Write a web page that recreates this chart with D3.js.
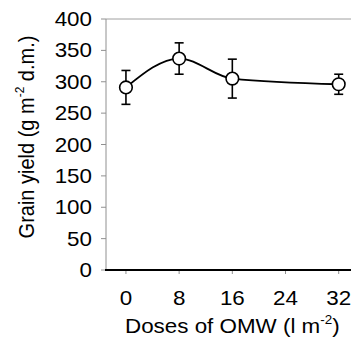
<!DOCTYPE html>
<html>
<head>
<meta charset="utf-8">
<script src="https://cdn.jsdelivr.net/npm/d3@7"></script>
<style>
  body { margin: 0; background: #fff; }
  text { font-family: "Liberation Sans", Arial, sans-serif; fill: #000; }
</style>
</head>
<body>
<script>
// Doses of OMW (l m-2)
const doses = [0, 8, 16, 32];
// Grain yield (g m-2 d.m.)
const yieldMean = [291, 337, 305, 296];
const yieldErr = [27, 25, 31, 16];
const xTicks = [0, 8, 16, 24, 32];
const yTicks = [0, 50, 100, 150, 200, 250, 300, 350, 400];

const width = 351, height = 340;
const margin = {top: 19, right: 0, bottom: 70, left: 106};
// glyphs in the picture are a bit wider than tall
const sx = 1.12;

const x = d3.scaleLinear([-3, 34], [margin.left, width + 1]);
const y = d3.scaleLinear([0, 400], [height - margin.bottom, margin.top]);

const svg = d3.select("body").append("svg")
    .attr("width", width)
    .attr("height", height);

// top frame line
svg.append("line")
    .attr("x1", margin.left).attr("x2", width)
    .attr("y1", y(400)).attr("y2", y(400))
    .attr("stroke", "#a0a0a0").attr("stroke-width", 1);

// y axis
const gy = svg.append("g").attr("transform", `translate(${margin.left},0)`);
gy.append("line")
    .attr("y1", y(0)).attr("y2", y(400))
    .attr("stroke", "#909090");
gy.selectAll(".tk").data(yTicks).join("line")
    .attr("x1", -5).attr("x2", 0)
    .attr("y1", d => y(d)).attr("y2", d => y(d))
    .attr("stroke", "#909090");
gy.selectAll(".lb").data(yTicks).join("text")
    .attr("transform", d => `translate(-14,${y(d) + 7}) scale(${sx},1)`)
    .attr("text-anchor", "end")
    .style("font-size", "20px")
    .text(d => d);

// x axis
const gx = svg.append("g").attr("transform", `translate(0,${y(0)})`);
gx.selectAll(".tk").data(xTicks).join("line")
    .attr("x1", d => x(d)).attr("x2", d => x(d))
    .attr("y1", 0).attr("y2", 4)
    .attr("stroke", "#909090");
gx.append("line")
    .attr("x1", margin.left - 1).attr("x2", width)
    .attr("stroke", "#000").attr("stroke-width", 1.8);
gx.selectAll(".lb").data(xTicks).join("text")
    .attr("transform", d => `translate(${x(d)},35) scale(${sx},1)`)
    .attr("text-anchor", "middle")
    .style("font-size", "20px")
    .text(d => d);

// axis titles
const xt = svg.append("text")
    .attr("transform", `translate(${x(16)},333) scale(${sx},1)`)
    .attr("text-anchor", "middle")
    .style("font-size", "20px");
xt.append("tspan").text("Doses of OMW (l m");
xt.append("tspan").attr("dy", -9).style("font-size", "12px").text("-2");
xt.append("tspan").attr("dy", 9).text(")");

const yt = svg.append("text")
    .attr("transform", `translate(34,137) scale(${sx},1) rotate(-90)`)
    .attr("text-anchor", "middle")
    .style("font-size", "20px");
yt.append("tspan").text("Grain yield (g m");
yt.append("tspan").attr("dy", -9).style("font-size", "12px").text("-2");
yt.append("tspan").attr("dy", 9).text(" d.m.)");

// data
const pts = doses.map((d, i) => ({dose: d, v: yieldMean[i], e: yieldErr[i]}));

const line = d3.line()
    .x(d => x(d.dose))
    .y(d => y(d.v))
    .curve(d3.curveMonotoneX);

svg.append("path")
    .datum(pts)
    .attr("fill", "none")
    .attr("stroke", "#000")
    .attr("stroke-width", 1.8)
    .attr("d", line);

const eb = svg.append("g").attr("stroke", "#000").attr("stroke-width", 1.6);
eb.selectAll(".v").data(pts).join("line")
    .attr("x1", d => x(d.dose)).attr("x2", d => x(d.dose))
    .attr("y1", d => y(d.v - d.e)).attr("y2", d => y(d.v + d.e));
eb.selectAll(".t").data(pts).join("line")
    .attr("x1", d => x(d.dose) - 4.5).attr("x2", d => x(d.dose) + 4.5)
    .attr("y1", d => y(d.v + d.e)).attr("y2", d => y(d.v + d.e));
eb.selectAll(".b").data(pts).join("line")
    .attr("x1", d => x(d.dose) - 4.5).attr("x2", d => x(d.dose) + 4.5)
    .attr("y1", d => y(d.v - d.e)).attr("y2", d => y(d.v - d.e));

svg.append("g").selectAll("circle").data(pts).join("circle")
    .attr("cx", d => x(d.dose))
    .attr("cy", d => y(d.v))
    .attr("r", 6.3)
    .attr("fill", "#fff")
    .attr("stroke", "#000")
    .attr("stroke-width", 1.6);
</script>
</body>
</html>
